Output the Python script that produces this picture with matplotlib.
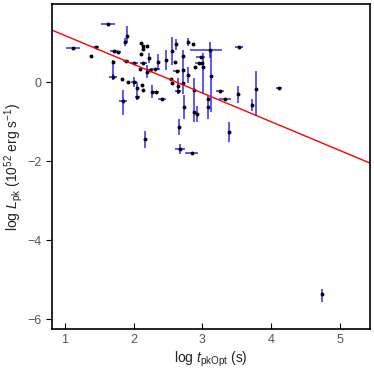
import numpy as np
import matplotlib
matplotlib.use("Agg")
from matplotlib import pyplot as plt

plt.rcParams["font.family"] = ["Liberation Sans", "DejaVu Sans"]
plt.rcParams["mathtext.fontset"] = "custom"
plt.rcParams["mathtext.rm"] = "Liberation Sans"
plt.rcParams["mathtext.it"] = "Liberation Sans:italic"

# log t_pkOpt (s)
log_t = np.array([
    1.121, 1.374, 1.451, 1.630, 1.713, 1.771, 1.703, 1.694, 1.829, 1.839,
    1.873, 1.906, 1.887, 1.912, 2.008, 2.004, 2.043, 2.052, 2.105, 2.139,
    2.188, 2.130, 2.105, 2.139, 2.091, 2.116, 2.139, 2.188, 2.226, 2.236,
    2.261, 2.309, 2.324, 2.357, 2.407, 2.469, 2.552, 2.542, 2.552, 2.600,
    2.615, 2.625, 2.639, 2.648, 2.663, 2.673, 2.712, 2.721, 2.712, 2.735,
    2.785, 2.793, 2.857, 2.843, 2.876, 2.891, 2.881, 2.916, 2.953, 2.997,
    3.012, 2.974, 3.084, 3.084, 3.109, 3.124, 3.255, 3.327, 3.390, 3.512,
    3.535, 3.730, 3.778, 4.117, 4.748, 2.160,
])
# log L_pk (10^52 erg/s)
log_L = np.array([
    0.866, 0.664, 0.884, 1.457, 0.783, 0.765, 0.497, 0.119, 0.076, -0.480,
    1.003, 1.162, 0.530, -0.008, 0.487, 0.000, -0.159, -0.371, 0.992, 0.909,
    0.917, 0.826, 0.707, 0.472, 0.328, -0.076, -0.202, 0.260, 0.614, 0.303,
    -0.245, 0.321, -0.245, 0.505, -0.437, 0.556, 0.790, 0.083, -0.018, 0.505,
    0.952, 0.285, -0.101, -0.220, -1.129, -1.692, 0.657, 0.303, -0.018, -0.639,
    0.177, 1.018, 0.952, -1.785, -0.202, 0.386, -0.750, -0.816, 0.472, 0.472,
    0.386, 0.639, -0.437, -0.639, 0.808, 0.152, -0.220, -0.437, -1.255, -0.311,
    0.876, -0.581, -0.184, -0.144, -5.354, -1.450,
])
# x errors (lower, upper)
t_err_lo = np.array([
    0.10, 0.00, 0.04, 0.10, 0.06, 0.04, 0.00, 0.06, 0.00, 0.06,
    0.00, 0.00, 0.05, 0.00, 0.06, 0.04, 0.00, 0.04, 0.00, 0.00,
    0.00, 0.00, 0.00, 0.05, 0.00, 0.00, 0.00, 0.00, 0.00, 0.05,
    0.00, 0.07, 0.05, 0.00, 0.06, 0.00, 0.00, 0.00, 0.00, 0.00,
    0.00, 0.05, 0.00, 0.04, 0.00, 0.07, 0.00, 0.00, 0.00, 0.00,
    0.00, 0.00, 0.00, 0.09, 0.00, 0.00, 0.00, 0.00, 0.06, 0.00,
    0.00, 0.07, 0.00, 0.00, 0.29, 0.00, 0.06, 0.09, 0.00, 0.00,
    0.06, 0.00, 0.00, 0.04, 0.00, 0.00,
])
t_err_hi = np.array([
    0.10, 0.00, 0.04, 0.10, 0.06, 0.04, 0.00, 0.06, 0.00, 0.06,
    0.00, 0.00, 0.05, 0.00, 0.06, 0.04, 0.00, 0.04, 0.00, 0.00,
    0.00, 0.00, 0.00, 0.05, 0.00, 0.00, 0.00, 0.00, 0.00, 0.05,
    0.00, 0.07, 0.05, 0.00, 0.06, 0.00, 0.00, 0.00, 0.00, 0.00,
    0.00, 0.05, 0.00, 0.04, 0.00, 0.07, 0.00, 0.00, 0.00, 0.00,
    0.00, 0.00, 0.00, 0.09, 0.00, 0.00, 0.00, 0.00, 0.06, 0.00,
    0.00, 0.07, 0.00, 0.00, 0.18, 0.00, 0.06, 0.09, 0.00, 0.00,
    0.06, 0.00, 0.00, 0.04, 0.00, 0.00,
])
# y errors (lower, upper)
L_err_lo = np.array([
    0.00, 0.00, 0.00, 0.00, 0.00, 0.00, 0.37, 0.08, 0.00, 0.35,
    0.10, 0.18, 0.00, 0.00, 0.00, 0.12, 0.15, 0.08, 0.00, 0.00,
    0.00, 0.00, 0.00, 0.00, 0.00, 0.00, 0.00, 0.17, 0.13, 0.00,
    0.17, 0.00, 0.00, 0.20, 0.00, 0.25, 0.35, 0.00, 0.00, 0.00,
    0.13, 0.00, 0.20, 0.00, 0.20, 0.12, 0.00, 0.60, 0.00, 0.30,
    0.20, 0.10, 0.00, 0.00, 0.30, 0.00, 0.25, 0.20, 0.00, 0.00,
    0.70, 0.00, 0.00, 0.30, 0.20, 0.90, 0.00, 0.00, 0.25, 0.22,
    0.00, 0.15, 0.67, 0.00, 0.22, 0.21,
])
L_err_hi = np.array([
    0.00, 0.00, 0.00, 0.00, 0.00, 0.00, 0.05, 0.08, 0.00, 0.28,
    0.10, 0.25, 0.00, 0.00, 0.00, 0.12, 0.15, 0.08, 0.00, 0.00,
    0.00, 0.00, 0.00, 0.00, 0.00, 0.00, 0.00, 0.17, 0.13, 0.00,
    0.17, 0.00, 0.00, 0.20, 0.00, 0.25, 0.35, 0.00, 0.00, 0.00,
    0.13, 0.00, 0.20, 0.00, 0.20, 0.12, 0.00, 0.50, 0.00, 0.30,
    0.20, 0.10, 0.00, 0.00, 0.30, 0.00, 0.25, 0.20, 0.00, 0.00,
    0.35, 0.00, 0.00, 0.30, 0.20, 0.60, 0.00, 0.00, 0.25, 0.22,
    0.00, 0.15, 0.47, 0.00, 0.13, 0.21,
])

# best-fit line
fit_slope = -0.726
fit_intercept = 1.90

fig = plt.figure(figsize=(3.74, 3.74), dpi=100)
ax = fig.add_axes([0.139, 0.120, 0.850, 0.869])

ax.errorbar(log_t, log_L, xerr=[t_err_lo, t_err_hi], yerr=[L_err_lo, L_err_hi],
            fmt="none", ecolor="blue", elinewidth=1.3, alpha=0.7, capsize=0)
ax.plot(log_t, log_L, "o", color="black", markersize=1.8)

xx = np.array([0.8, 5.45])
ax.plot(xx, fit_intercept + fit_slope * xx, color="red", lw=1.0)

ax.set_xlim(0.81, 5.44)
ax.set_ylim(-6.25, 1.97)
ax.set_xticks([1, 2, 3, 4, 5])
ax.set_yticks([0, -2, -4, -6])
ax.tick_params(axis="x", direction="in", length=4, labelsize=9, labelcolor="#555555")
ax.tick_params(axis="y", direction="out", length=4, labelsize=9, labelcolor="#555555")
for s in ax.spines.values():
    s.set_linewidth(1.2)

ax.set_xlabel(r"log $t_{\rm pkOpt}$ (s)", fontsize=10, color="#222222", labelpad=3)
ax.set_ylabel(r"log $L_{\rm pk}$ ($10^{52}$ erg s$^{-1}$)", fontsize=10, color="#222222",
              labelpad=2)

fig.savefig("out.png", dpi=100)
